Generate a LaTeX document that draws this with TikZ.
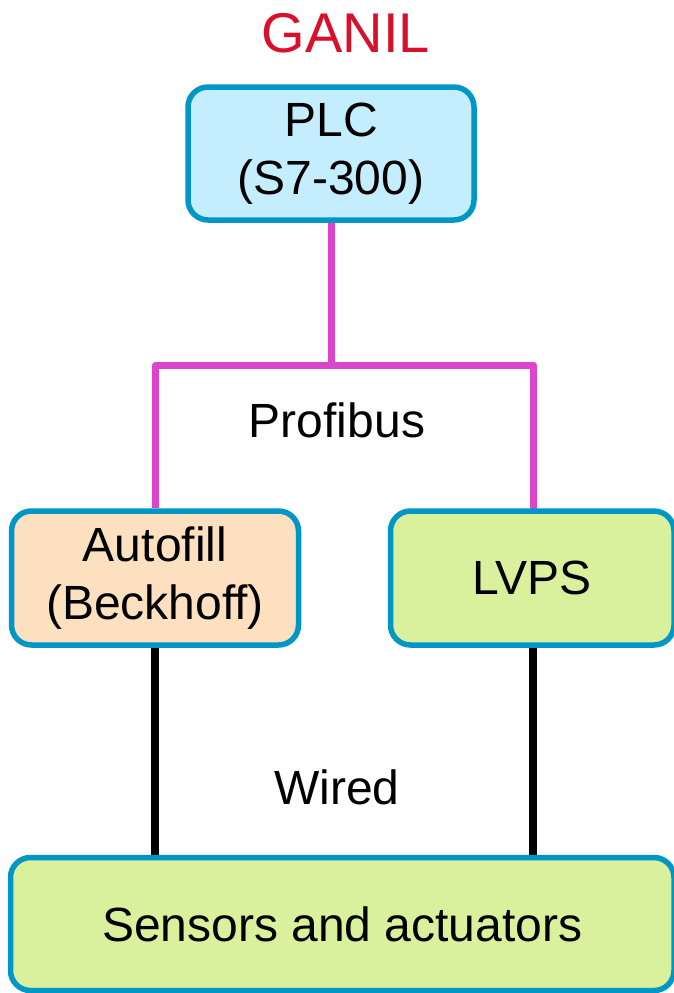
\documentclass[tikz,border=0pt]{standalone}
\usepackage{fontspec}
\setmainfont{Liberation Sans}
\usetikzlibrary{backgrounds}
\definecolor{bordc}{HTML}{0096C6}
\definecolor{plcfill}{HTML}{C4EEFE}
\definecolor{autofill}{HTML}{FDE0BF}
\definecolor{greenfill}{HTML}{D9F09C}
\definecolor{busc}{HTML}{DD44CC}
\definecolor{ganilred}{HTML}{D8102B}
\begin{document}
\begin{tikzpicture}[x=1pt,y=-1pt,
  boxstyle/.style={draw=bordc, line width=5.5pt, rounded corners=20pt, align=center,
    inner sep=0pt, font=\fontsize{48}{58}\selectfont},
  buslink/.style={draw=busc, line width=7pt, line join=round},
  wirelink/.style={draw=black, line width=8pt},
  lbl/.style={font=\fontsize{48}{58}\selectfont, inner sep=0pt}]
\useasboundingbox (0,0) rectangle (673,993);
\node[font=\fontsize{56}{60}\selectfont, text=ganilred, inner sep=0pt] (title) at (346,33) {GANIL};
\node[boxstyle, fill=plcfill, minimum width=286pt, minimum height=133pt] (plc) at (331,153.5) {PLC\\(S7-300)};
\node[boxstyle, fill=autofill, minimum width=287pt, minimum height=134pt] (auto) at (155,578) {Autofill\\(Beckhoff)};
\node[boxstyle, fill=greenfill, minimum width=283.5pt, minimum height=134pt] (lvps) at (532.25,578) {LVPS};
\node[boxstyle, fill=greenfill, minimum width=663.5pt, minimum height=133pt] (sens) at (342.25,924) {Sensors and actuators};
\node[lbl] (profibus) at (337,420) {Profibus};
\node[lbl] (wired) at (337,787) {Wired};
\coordinate (j) at (331,365);
\coordinate (lvpstop) at (533.3,520);
\coordinate (lvpsbot) at (533.3,640);
\begin{scope}[on background layer]
\draw[buslink] (plc.south) -- (j) -| ([xshift=0.5pt]auto.north);
\draw[buslink] (j) -| (lvpstop);
\draw[wirelink] (auto.south) -- (auto.south |- sens.north);
\draw[wirelink] (lvpsbot) -- (lvpsbot |- sens.north);
\end{scope}
\end{tikzpicture}
\end{document}
